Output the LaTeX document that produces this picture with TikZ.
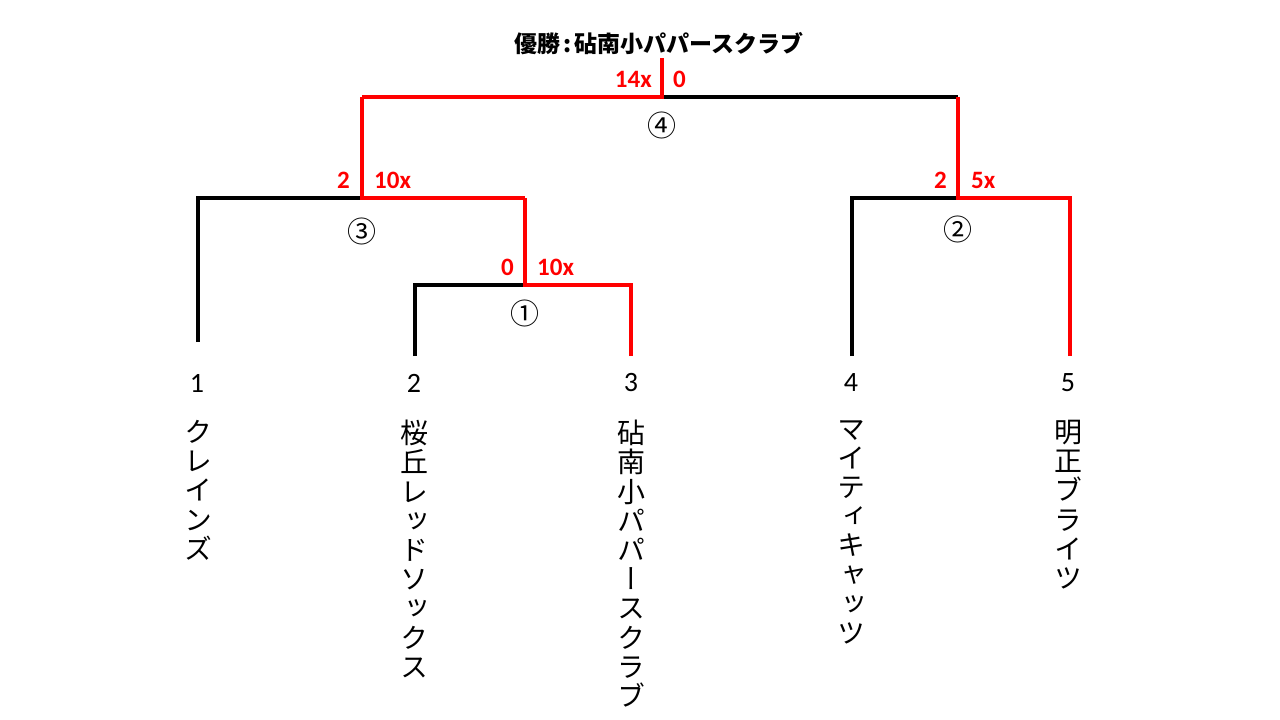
\documentclass[tikz,border=0pt]{standalone}
\usepackage{fontspec}
\setmainfont{Carlito}
\newfontfamily\jp{Noto Sans CJK JP}
\newfontfamily\vjp[RawFeature=+vert]{Noto Sans CJK JP}
\begin{document}
\begin{tikzpicture}[x=1pt,y=-1pt,
  lose/.style={draw=black,line width=3.5pt},
  win/.style={draw=red,line width=3.5pt},
  score/.style={text=red,inner sep=0pt,font=\bfseries\fontsize{25}{25}\selectfont},
  circ/.style={inner sep=0pt,font=\jp\fontsize{29}{29}\selectfont},
  seed/.style={inner sep=0pt,font=\fontsize{28}{28}\selectfont},
  team/.style={anchor=north,inner sep=0pt,align=center,font=\vjp\fontsize{28}{29.2}\selectfont},
  title/.style={inner sep=0pt,font=\jp\bfseries\fontsize{23}{23}\selectfont}]
\useasboundingbox (0,0) rectangle (1280,720);
% coordinates
\coordinate (t1) at (198,342); \coordinate (t1top) at (198,198);
\coordinate (t2) at (415,356); \coordinate (t2top) at (415,285);
\coordinate (t3) at (631,356); \coordinate (t3top) at (631,285);
\coordinate (t4) at (852,356); \coordinate (t4top) at (852,198);
\coordinate (t5) at (1070,356); \coordinate (t5top) at (1070,198);
\coordinate (m1) at (525,285); \coordinate (m1up) at (525,198);
\coordinate (m3) at (362,198); \coordinate (m3up) at (362,97);
\coordinate (m2) at (958,198); \coordinate (m2up) at (958,97);
\coordinate (m4) at (662,97); \coordinate (m4up) at (662,58);
% losers
\draw[lose] (t1) -- (t1top) -- (m3);
\draw[lose] (t2) -- (t2top) -- (m1);
\draw[lose] (t4) -- (t4top) -- (m2);
\draw[lose] (m4) -- (m2up);
% winners
\draw[win] (t3) -- (t3top) -- (m1) -- (m1up);
\draw[win] (m1up) -- (m3) -- (m3up);
\draw[win] (t5) -- (t5top) -- (m2) -- (m2up);
\draw[win] (m3up) -- (m4) -- (m4up);
% title
\node[title] (champ) at (659,44) {優勝\hspace{3pt}:\hspace{3pt}砧南小パパースクラブ};
% scores
\node[score,anchor=east] (s4a) at (652,79) {14x};
\node[score,anchor=west] (s4b) at (673,79) {0};
\node[score,anchor=east] (s3a) at (350,180) {2};
\node[score,anchor=west] (s3b) at (374,180) {10x};
\node[score,anchor=east] (s1a) at (514,267) {0};
\node[score,anchor=west] (s1b) at (537,267) {10x};
\node[score,anchor=east] (s2a) at (947,180) {2};
\node[score,anchor=west] (s2b) at (971,180) {5x};
% match numbers
\node[circ] (c4) at (662,125) {④};
\node[circ] (c3) at (362,231) {③};
\node[circ] (c1) at (525,313) {①};
\node[circ] (c2) at (958,229) {②};
% seeds
\node[seed] (n1) at (197,383) {1};
\node[seed] (n2) at (414,383) {2};
\node[seed] (n3) at (631,383) {3};
\node[seed] (n4) at (851,383) {4};
\node[seed] (n5) at (1068,383) {5};
% team names
\node[team] (team1) at (198,420) {ク\\レ\\イ\\ン\\ズ};
\node[team] (team2) at (414,420) {桜\\丘\\レ\\ッ\\ド\\ソ\\ッ\\ク\\ス};
\node[team] (team3) at (631,420) {砧\\南\\小\\パ\\パ\\ー\\ス\\ク\\ラ\\ブ};
\node[team] (team4) at (851,420) {マ\\イ\\テ\\ィ\\キ\\ャ\\ッ\\ツ};
\node[team] (team5) at (1068,420) {明\\正\\ブ\\ラ\\イ\\ツ};
\end{tikzpicture}
\end{document}
